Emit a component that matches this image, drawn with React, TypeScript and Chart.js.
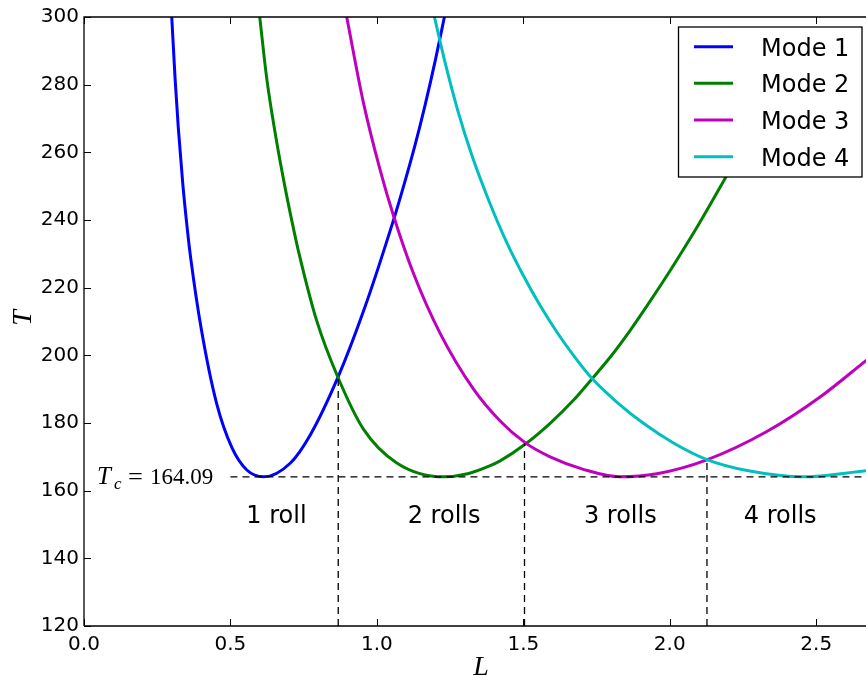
import React, { useEffect, useRef } from "react";
import { Chart, registerables } from "chart.js";

Chart.register(...registerables);

// ---- data ----
const mode1L = [0.2996, 0.311, 0.322, 0.337, 0.353, 0.365, 0.4, 0.453, 0.505, 0.556, 0.614, 0.704, 0.772, 0.868, 0.954, 1.0564, 1.0905, 1.1305, 1.165, 1.2, 1.2305];
const mode1T = [300, 281.8, 267.2, 251.0, 237.1, 228.3, 208.0, 185.7, 172.7, 166.1, 164.09, 168.1, 176.4, 193.7, 213.0, 239.9, 249.8, 262.2, 274.1, 287.4, 300];

const mode2L = [0.6, 0.624, 0.652, 0.683, 0.71, 0.732, 0.795, 0.868, 0.954, 1.068, 1.228, 1.31, 1.387, 1.4208, 1.506, 1.5915, 1.671, 1.734, 1.797, 1.865, 1.933, 2.001, 2.058, 2.102, 2.182, 2.26];
const mode2T = [300, 281.8, 266.1, 251.2, 239.6, 230.9, 210.1, 193.3, 178.2, 168.2, 164.09, 165.0, 167.4, 168.8, 173.7, 179.9, 186.7, 193.0, 199.5, 207.4, 216.0, 225.0, 232.9, 239.2, 251.2, 263.4];

const mode3L = [0.897, 0.954, 1.011, 1.057, 1.125, 1.216, 1.33, 1.4208, 1.506, 1.5915, 1.705, 1.8306, 1.956, 2.1267, 2.33, 2.512, 2.672];
const mode3T = [300, 274.7, 254.8, 241.2, 224.2, 206.5, 190.0, 180.6, 174.2, 170.0, 166.3, 164.09, 165.0, 169.1, 177.4, 187.6, 198.6];

const mode4L = [1.1965, 1.233, 1.278, 1.324, 1.381, 1.4436, 1.5004, 1.5574, 1.6144, 1.6712, 1.734, 1.819, 1.91, 2.0126, 2.1267, 2.273, 2.456, 2.672];
const mode4T = [300, 286.5, 271.8, 259.2, 246.0, 233.3, 223.5, 214.7, 206.9, 200.0, 193.2, 186.2, 179.9, 174.1, 169.2, 165.8, 164.09, 165.9];

const modeNames = ["Mode 1", "Mode 2", "Mode 3", "Mode 4"];
const modeColors = ["#0000ff", "#008000", "#bf00bf", "#00bfbf"];

const Tc = 164.09;
const tcLineStartL = 0.5;
const boundaryL = [0.868, 1.504, 2.127];
const boundaryT = [193.5, 174.0, 169.1];

const rollLabels = ["1 roll", "2 rolls", "3 rolls", "4 rolls"];
const rollLabelL = [0.657, 1.2295, 1.831, 2.377];
const rollLabelT = 150.3;

const xMin = 0;
const xMax = 2.67;
const xTickValues = [0, 0.5, 1.0, 1.5, 2.0, 2.5];
const yMin = 120;
const yMax = 300;
const yStep = 20;

const SANS = "'DejaVu Sans', sans-serif";
const SERIF = "'Liberation Serif', 'DejaVu Serif', serif";

function pts(xs: number[], ys: number[]) {
  return xs.map((x, i) => ({ x, y: ys[i] }));
}

const overlayPlugin = {
  id: "overlay",
  beforeDraw(chart: any) {
    const ctx = chart.ctx;
    ctx.save();
    ctx.fillStyle = "#ffffff";
    ctx.fillRect(0, 0, chart.width, chart.height);
    ctx.restore();
  },
  afterDraw(chart: any) {
    const ctx = chart.ctx;
    const xs = chart.scales.x;
    const ys = chart.scales.y;
    const a = chart.chartArea;
    ctx.save();

    // spines
    ctx.strokeStyle = "#000";
    ctx.lineWidth = 1.3;
    ctx.beginPath();
    ctx.moveTo(a.left, a.bottom);
    ctx.lineTo(a.left, a.top);
    ctx.lineTo(a.right, a.top);
    ctx.moveTo(a.left, a.bottom);
    ctx.lineTo(a.right, a.bottom);
    ctx.stroke();

    // inward ticks
    ctx.lineWidth = 1;
    const tl = 7;
    ctx.beginPath();
    for (const t of xs.ticks) {
      const px = Math.round(xs.getPixelForValue(t.value)) + 0.5;
      ctx.moveTo(px, a.bottom);
      ctx.lineTo(px, a.bottom - tl);
      ctx.moveTo(px, a.top);
      ctx.lineTo(px, a.top + tl);
    }
    for (const t of ys.ticks) {
      const py = Math.round(ys.getPixelForValue(t.value)) + 0.5;
      ctx.moveTo(a.left, py);
      ctx.lineTo(a.left + tl, py);
    }
    ctx.stroke();

    // region labels
    ctx.fillStyle = "#000";
    ctx.font = `24px ${SANS}`;
    ctx.textAlign = "center";
    ctx.textBaseline = "alphabetic";
    rollLabels.forEach((s, i) => {
      ctx.fillText(s, xs.getPixelForValue(rollLabelL[i]), ys.getPixelForValue(rollLabelT));
    });

    // Tc label (math style)
    const tcX = 97;
    const tcY = Math.round(ys.getPixelForValue(Tc)) + 6.5;
    ctx.textAlign = "left";
    ctx.font = `italic 25px ${SERIF}`;
    ctx.fillText("T", tcX, tcY);
    ctx.font = `italic 17px ${SERIF}`;
    ctx.fillText("c", tcX + 17, tcY + 5.5);
    ctx.save();
    ctx.font = `23px ${SERIF}`;
    ctx.translate(tcX + 31, tcY);
    ctx.scale(1.15, 1);
    ctx.fillText("=", 0, 0);
    ctx.restore();
    ctx.font = `23px ${SERIF}`;
    ctx.fillText(Tc.toFixed(2), tcX + 53, tcY);

    // axis titles
    ctx.font = `italic 28px ${SERIF}`;
    ctx.textAlign = "center";
    ctx.fillText("L", 481, 675);
    ctx.save();
    ctx.translate(31, 318);
    ctx.rotate(-Math.PI / 2);
    ctx.fillText("T", 0, 0);
    ctx.restore();

    // legend
    const lx = 678.5, ly = 27, lw = 183.5, lh = 150;
    ctx.fillStyle = "#fff";
    ctx.fillRect(lx, ly, lw, lh);
    ctx.strokeStyle = "#000";
    ctx.lineWidth = 1.3;
    ctx.strokeRect(lx, ly, lw, lh);
    const rowY = [46.7, 83.3, 120, 156.7];
    modeNames.forEach((name, i) => {
      ctx.strokeStyle = modeColors[i];
      ctx.lineWidth = 3;
      ctx.beginPath();
      ctx.moveTo(694, rowY[i]);
      ctx.lineTo(733, rowY[i]);
      ctx.stroke();
      ctx.fillStyle = "#000";
      ctx.font = `24px ${SANS}`;
      ctx.textAlign = "left";
      ctx.textBaseline = "alphabetic";
      ctx.fillText(name, 761, rowY[i] + 9);
    });

    ctx.restore();
  },
};

export default function App() {
  const ref = useRef<HTMLCanvasElement | null>(null);

  useEffect(() => {
    document.body.style.margin = "0";
    const canvas = ref.current;
    if (!canvas) return;

    const curveSets = [
      pts(mode1L, mode1T),
      pts(mode2L, mode2T),
      pts(mode3L, mode3T),
      pts(mode4L, mode4T),
    ];

    const datasets: any[] = curveSets.map((d, i) => ({
      label: modeNames[i],
      data: d,
      borderColor: modeColors[i],
      backgroundColor: modeColors[i],
      borderWidth: 3,
      pointRadius: 0,
      cubicInterpolationMode: "monotone",
      fill: false,
      order: 4 - i,
    }));

    const dash = {
      borderColor: "#000",
      borderWidth: 1.3,
      borderDash: [7, 5],
      pointRadius: 0,
      fill: false,
      tension: 0,
      order: 0,
    };
    datasets.push({
      ...dash,
      label: "Tc",
      data: [
        { x: tcLineStartL, y: Tc },
        { x: xMax, y: Tc },
      ],
    });
    boundaryL.forEach((L, i) => {
      datasets.push({
        ...dash,
        label: "b" + i,
        data: [
          { x: L, y: yMin },
          { x: L, y: boundaryT[i] },
        ],
      });
    });

    const chart = new Chart(canvas, {
      type: "line",
      data: { datasets },
      options: {
        animation: false,
        responsive: false,
        devicePixelRatio: 1,
        layout: { padding: { top: 14, left: 0, right: 0, bottom: 0 } },
        plugins: {
          legend: { display: false },
          tooltip: { enabled: false },
        },
        scales: {
          x: {
            type: "linear",
            min: xMin,
            max: xMax,
            grid: { display: false, drawTicks: false },
            border: { display: false },
            afterBuildTicks: (s: any) => {
              s.ticks = xTickValues.map((v) => ({ value: v }));
            },
            afterFit: (s: any) => {
              s.height = 51;
            },
            ticks: {
              autoSkip: false,
              maxRotation: 0,
              padding: 7,
              color: "#000",
              font: { family: SANS, size: 20 },
              callback: (v: any) => Number(v).toFixed(1),
            },
          },
          y: {
            type: "linear",
            min: yMin,
            max: yMax,
            grid: { display: false, drawTicks: false },
            border: { display: false },
            afterFit: (s: any) => {
              s.width = 84;
            },
            ticks: {
              stepSize: yStep,
              padding: 5,
              color: "#000",
              font: { family: SANS, size: 20 },
              callback: (v: any) => String(Math.round(Number(v))),
            },
          },
        },
      },
      plugins: [overlayPlugin],
    });

    return () => chart.destroy();
  }, []);

  return (
    <div style={{ position: "fixed", left: 0, top: 0, width: 866, height: 677 }}>
      <canvas ref={ref} width={866} height={677} style={{ display: "block" }} />
    </div>
  );
}
